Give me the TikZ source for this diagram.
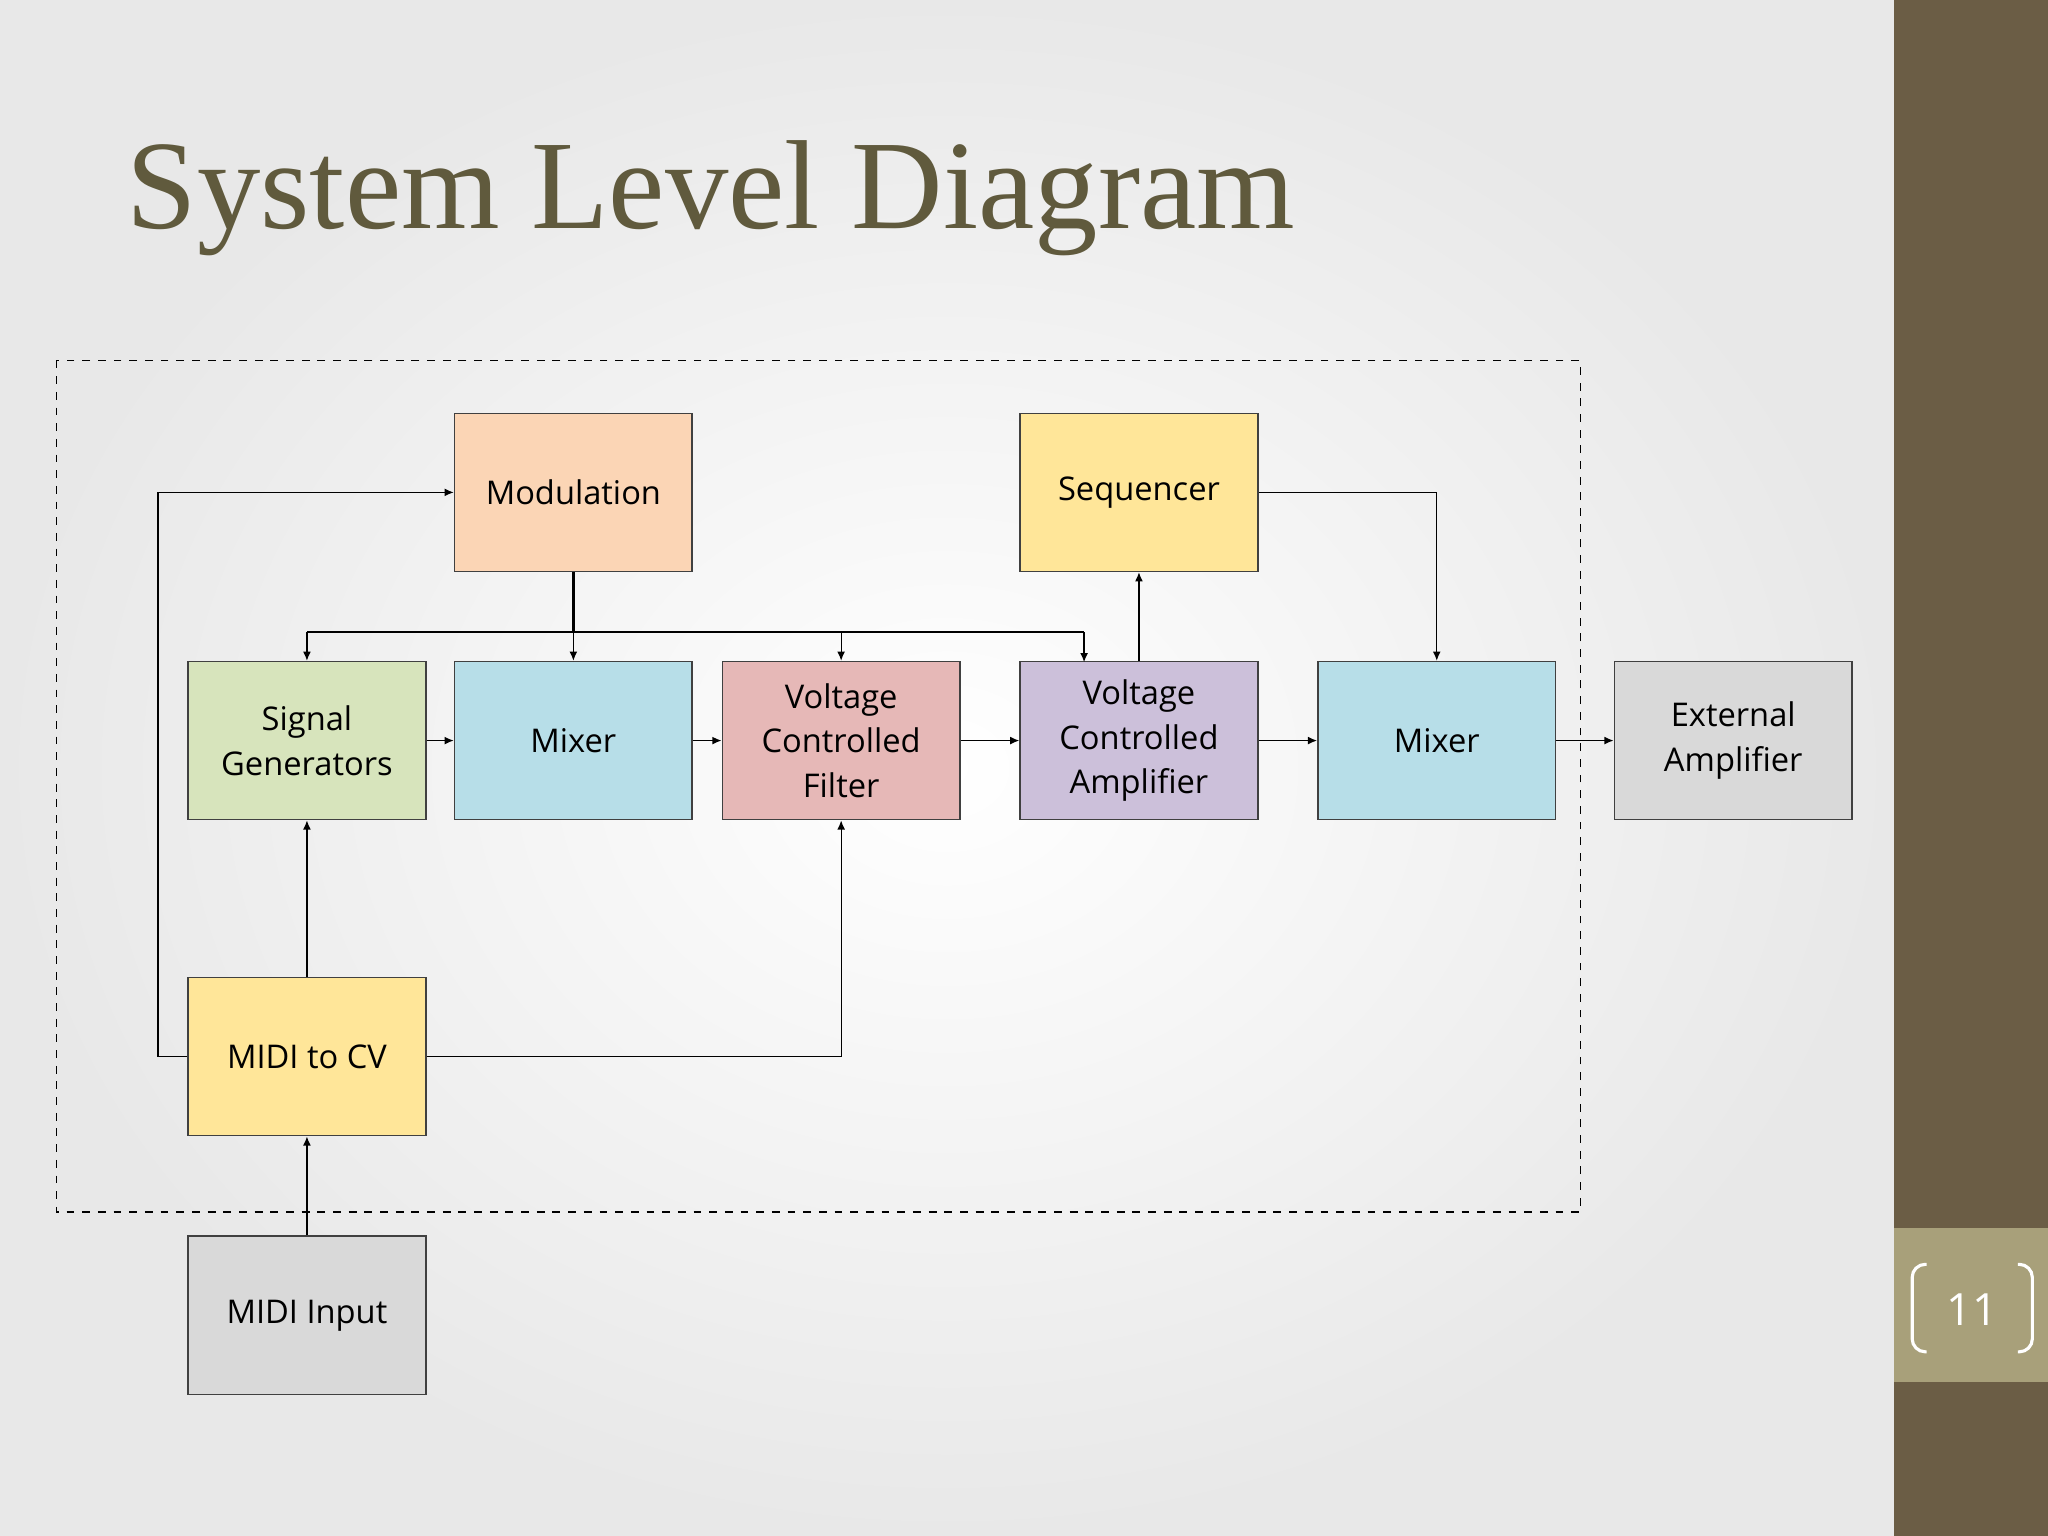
\documentclass[tikz,border=0pt]{standalone}
\usepackage{fontspec}
\setmainfont{Open Sans}
\newfontfamily\titlefont{Liberation Serif}
\usetikzlibrary{arrows.meta}
\definecolor{titlec}{HTML}{605A3D}
\definecolor{barc}{HTML}{6B5D45}
\definecolor{numc}{HTML}{A8A07A}
\definecolor{cmod}{HTML}{FBD5B5}
\definecolor{cseq}{HTML}{FFE699}
\definecolor{csig}{HTML}{D7E4BC}
\definecolor{cmix}{HTML}{B7DEE8}
\definecolor{cvcf}{HTML}{E6B8B7}
\definecolor{cvca}{HTML}{CCC0DA}
\definecolor{cgry}{HTML}{D9D9D9}
\begin{document}
\begin{tikzpicture}[x=0.5pt,y=-0.5pt,
  blk/.style={draw=black!75,line width=0.6pt,minimum width=91pt,minimum height=60.5pt,inner sep=0pt,align=center,font=\fontsize{12.5}{17}\selectfont},
  con/.style={line width=0.5pt,-{Latex[length=3.5pt,width=3pt]}}]
\useasboundingbox (0,0) rectangle (1568,1176);
\shade[inner color=white,outer color=black!9] (0,0) rectangle (1450,1176);
\fill[barc] (1450,0) rectangle (1568,1176);
\fill[numc] (1450,940) rectangle (1568,1058);
\draw[white,line width=1.2pt,rounded corners=5pt] (1475,968) -- (1464,968) -- (1464,1035) -- (1475,1035);
\draw[white,line width=1.2pt,rounded corners=5pt] (1545,968) -- (1556,968) -- (1556,1035) -- (1545,1035);
\node[white,font=\fontsize{17}{20}\selectfont] (pg) at (1510,1003) {11};
\node[anchor=west,text=titlec,font=\titlefont\fontsize{48.5}{56}\selectfont] (title) at (90,152) {System Level Diagram};
\draw[dashed,line width=0.5pt] (43,276) rectangle (1210,928);
\node[blk,fill=cmod] (mod) at (439,377) {Modulation};
\node[blk,fill=cseq] (seq) at (872,377) {Sequencer};
\node[blk,fill=csig] (sig) at (235,567) {Signal\\Generators};
\node[blk,fill=cmix] (mx1) at (439,567) {Mixer};
\node[blk,fill=cvcf] (vcf) at (644,567) {Voltage\\Controlled\\Filter};
\node[blk,fill=cvca] (vca) at (872,567) {Voltage\\Controlled\\Amplifier};
\node[blk,fill=cmix] (mx2) at (1100,567) {Mixer};
\node[blk,fill=cgry] (ext) at (1327,567) {External\\Amplifier};
\node[blk,fill=cseq] (cv) at (235,809) {MIDI to CV};
\node[blk,fill=cgry] (in) at (235,1007) {MIDI Input};
\coordinate (bus) at (439,484);
\draw[line width=1pt] (mod.south) -- (bus);
\draw[line width=0.6pt] (235,484) -- (830,484);
\draw[con] (235,484) -- (sig.north);
\draw[con] (bus) -- (mx1.north);
\draw[con] (644,484) -- (vcf.north);
\draw[con] (830,484) -- (830,507);
\draw[con] (cv.west) -- (121,809) -- (121,377) -- (mod.west);
\draw[con] (cv.north) -- (sig.south);
\draw[con] (cv.east) -| (vcf.south);
\draw[con] (in.north) -- (cv.south);
\draw[con] (sig) -- (mx1);
\draw[con] (mx1) -- (vcf);
\draw[con] (vcf) -- (vca);
\draw[con] (vca) -- (mx2);
\draw[con] (mx2) -- (ext);
\draw[con] (vca.north) -- (seq.south);
\draw[con] (seq.east) -| (mx2.north);
\end{tikzpicture}
\end{document}
